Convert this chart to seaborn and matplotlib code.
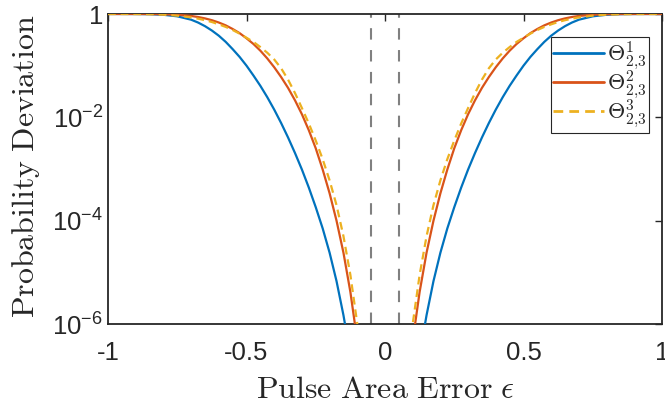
import numpy as np
import pandas as pd
import matplotlib
matplotlib.use("Agg")
import matplotlib.pyplot as plt
from matplotlib.lines import Line2D
import seaborn as sns

# --------------------------------------------------------------------
# Data (log axis, so values are stored as log10)
# the curves are symmetric in eps, so one half is read and mirrored
# --------------------------------------------------------------------

abs_eps_theta1 = [0.125, 0.15, 0.175, 0.2, 0.225, 0.25, 0.275, 0.3, 0.325, 0.35,
                  0.375, 0.4, 0.425, 0.45, 0.475, 0.5, 0.525, 0.55, 0.575, 0.6,
                  0.625, 0.65, 0.675, 0.7, 0.75, 0.8, 0.85, 0.9, 0.95, 1.0]
log_dev_theta1 = [-6.6, -5.83, -5.17, -4.62, -4.15, -3.74, -3.36, -3.01, -2.69, -2.39,
                  -2.11, -1.85, -1.61, -1.39, -1.19, -1.0, -0.83, -0.68, -0.54, -0.42,
                  -0.32, -0.235, -0.165, -0.11, -0.045, -0.015, -0.004, -0.001, 0.0, 0.0]

abs_eps_theta2 = [0.095, 0.1, 0.125, 0.15, 0.175, 0.2, 0.225, 0.25, 0.275, 0.3,
                  0.325, 0.35, 0.375, 0.4, 0.425, 0.45, 0.475, 0.5, 0.525, 0.55,
                  0.575, 0.6, 0.625, 0.65, 0.675, 0.7, 0.75, 0.8, 0.85, 0.9, 0.95, 1.0]
log_dev_theta2 = [-6.55, -6.33, -5.38, -4.62, -4.0, -3.47, -3.01, -2.6, -2.25, -1.94,
                  -1.67, -1.43, -1.22, -1.03, -0.86, -0.71, -0.58, -0.47, -0.37, -0.29,
                  -0.22, -0.165, -0.12, -0.085, -0.058, -0.038, -0.015, -0.005, -0.001, 0.0, 0.0, 0.0]

abs_eps_theta3 = [0.09, 0.1, 0.125, 0.15, 0.175, 0.2, 0.225, 0.25, 0.275, 0.3,
                  0.325, 0.35, 0.375, 0.4, 0.425, 0.45, 0.475, 0.5, 0.525, 0.55,
                  0.575, 0.6, 0.625, 0.65, 0.675, 0.7, 0.75, 0.8, 0.85, 0.9, 0.95, 1.0]
log_dev_theta3 = [-6.45, -6.0, -5.05, -4.3, -3.7, -3.22, -2.81, -2.45, -2.12, -1.82,
                  -1.53, -1.27, -1.05, -0.88, -0.75, -0.64, -0.54, -0.46, -0.38, -0.31,
                  -0.25, -0.2, -0.155, -0.12, -0.09, -0.065, -0.032, -0.013, -0.004, -0.001, 0.0, 0.0]

series_labels = [r"$\Theta^1_{2,\!3}$", r"$\Theta^2_{2,\!3}$", r"$\Theta^3_{2,\!3}$"]
series_colors = ["#0072BD", "#D95319", "#EDB120"]
cut_lines = [-0.05, 0.05]

x_ticks = [-1, -0.5, 0, 0.5, 1]
x_ticklabels = ["-1", "-0.5", "0", "0.5", "1"]
y_ticks = [1e-6, 1e-4, 1e-2, 1]
y_ticklabels = [r"$10^{-6}$", r"$10^{-4}$", r"$10^{-2}$", "1"]

# --------------------------------------------------------------------
# Long-form table
# --------------------------------------------------------------------

frames = []
for lab, e, d in zip(series_labels,
                     [abs_eps_theta1, abs_eps_theta2, abs_eps_theta3],
                     [log_dev_theta1, log_dev_theta2, log_dev_theta3]):
    e = np.asarray(e)
    dev = 10.0 ** np.asarray(d)
    for side, sign in [("left", -1), ("right", 1)]:
        part = pd.DataFrame({"eps": sign * e, "dev": dev})
        part["series"] = lab
        part["side"] = side
        frames.append(part.sort_values("eps"))
df = pd.concat(frames, ignore_index=True)

# --------------------------------------------------------------------
# Plot
# --------------------------------------------------------------------

sns.set_style("white")
plt.rcParams["font.family"] = ["Liberation Sans", "DejaVu Sans"]
plt.rcParams["mathtext.fontset"] = "custom"
plt.rcParams["mathtext.rm"] = "Liberation Sans"
plt.rcParams["mathtext.it"] = "Liberation Sans:italic"
plt.rcParams["axes.unicode_minus"] = False

fig = plt.figure(figsize=(6.65, 4.05), dpi=100)
ax = fig.add_axes([108 / 665, 1 - 324 / 405, 554 / 665, 310 / 405])

for x in cut_lines:
    ax.axvline(x, color="#808080", lw=1.5, ls=(0, (5.5, 5)), zorder=1)

sns.lineplot(data=df, x="eps", y="dev", hue="series", style="series",
             units="side", estimator=None, sort=False,
             palette=dict(zip(series_labels, series_colors)),
             dashes={series_labels[0]: "", series_labels[1]: "",
                     series_labels[2]: (3.5, 2.2)},
             lw=1.6, legend=False, ax=ax, zorder=3)

ax.set_yscale("log")
ax.set_xlim(-1, 1)
ax.set_ylim(1e-6, 1)
ax.set_xticks(x_ticks)
ax.set_xticklabels(x_ticklabels)
ax.set_yticks(y_ticks)
ax.set_yticklabels(y_ticklabels)
ax.minorticks_off()
ax.tick_params(axis="both", which="both", direction="in", length=5, width=1,
               top=True, right=True, labelsize=18.5, colors="#262626")
ax.tick_params(axis="x", pad=12)
ax.tick_params(axis="y", pad=3.5)
for sp in ax.spines.values():
    sp.set_visible(True)
    sp.set_color("#262626")
    sp.set_linewidth(1.3)

ax.set_xlabel(r"$\mathrm{Pulse\ Area\ Error}\ \epsilon$", fontsize=23,
              math_fontfamily="cm", color="#262626", va="top")
ax.xaxis.set_label_coords(0.5, -0.165)
ax.set_ylabel(r"$\mathrm{Probability\ Deviation}$", fontsize=23,
              math_fontfamily="cm", color="#262626")
ax.yaxis.set_label_coords(-0.119, 0.508)

handles = [Line2D([], [], color=series_colors[0], lw=2),
           Line2D([], [], color=series_colors[1], lw=2),
           Line2D([], [], color=series_colors[2], lw=2, ls=(0, (3.5, 2.2)))]
leg = ax.legend(handles, series_labels, loc="upper right",
                bbox_to_anchor=(0.9765, 0.926), borderaxespad=0,
                fontsize=16, fancybox=False, framealpha=1,
                edgecolor="#262626", handlelength=2.3, handletextpad=0.1,
                borderpad=0.12, labelspacing=-0.15)
leg.get_frame().set_linewidth(0.8)
for t in leg.get_texts():
    t.set_math_fontfamily("cm")

plt.savefig("out.png", dpi=100)
